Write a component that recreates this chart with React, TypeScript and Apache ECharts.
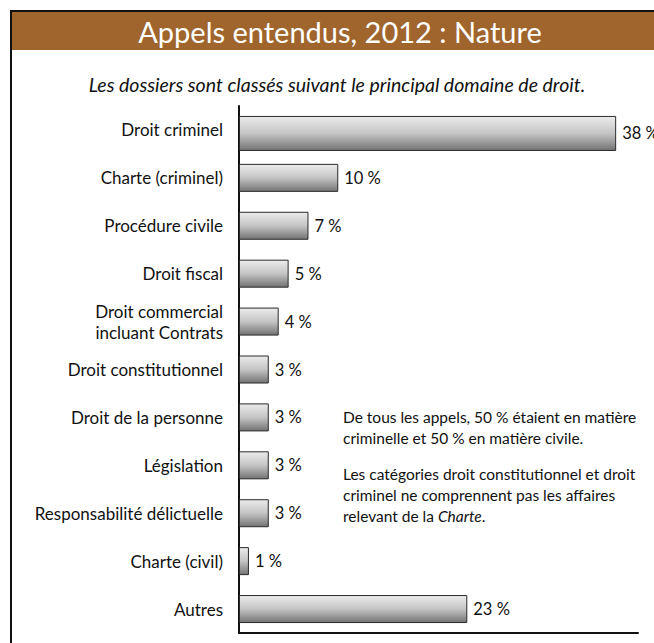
import React, { useEffect, useRef } from "react";
import * as echarts from "echarts";

const categories = [
  "Droit criminel",
  "Charte (criminel)",
  "Procédure civile",
  "Droit fiscal",
  "Droit commercial\nincluant Contrats",
  "Droit constitutionnel",
  "Droit de la personne",
  "Législation",
  "Responsabilité délictuelle",
  "Charte (civil)",
  "Autres",
];
const values = [38, 10, 7, 5, 4, 3, 3, 3, 3, 1, 23];
const titleText = "Appels entendus, 2012 : Nature";
const subtitleText = "Les dossiers sont classés suivant le principal domaine de droit.";
const noteLines1 = ["De tous les appels, 50 % étaient en matière", "criminelle et 50 % en matière civile."];
const noteLines2 = ["Les catégories droit constitutionnel et droit", "criminel ne comprennent pas les affaires"];

const FONT = "Lato, 'Open Sans', sans-serif";

export default function App() {
  const ref = useRef<HTMLDivElement>(null);
  useEffect(() => {
    if (!ref.current) return;
    const chart = echarts.init(ref.current, null, { renderer: "svg" });
    const grad = new echarts.graphic.LinearGradient(0, 0, 0, 1, [
      { offset: 0, color: "#ececec" },
      { offset: 0.5, color: "#c4c4c4" },
      { offset: 1, color: "#737373" },
    ]);
    const big = values.map((v, i) => (i === 0 ? v : "-"));
    const rest = values.map((v, i) => (i === 0 ? "-" : v));
    const labelCfg = {
      show: true,
      position: "right",
      distance: 6,
      formatter: (p: any) => `${p.value} %`,
      fontFamily: FONT,
      fontSize: 16.5,
      color: "#111",
    };
    const itemStyle = { color: grad, borderColor: "#2a2a2a", borderWidth: 1 };
    chart.setOption({
      animation: false,
      backgroundColor: "#fff",
      grid: { left: 239, right: 16, top: 106, bottom: 10, containLabel: false },
      xAxis: {
        type: "value",
        min: 0,
        max: 40.2,
        axisLine: { show: true, lineStyle: { color: "#111", width: 2 } },
        axisTick: { show: false },
        axisLabel: { show: false },
        splitLine: { show: false },
      },
      yAxis: {
        type: "category",
        data: categories,
        inverse: true,
        axisLine: { show: true, lineStyle: { color: "#111", width: 2 } },
        axisTick: { show: false },
        axisLabel: {
          margin: 16,
          fontFamily: FONT,
          fontSize: 17,
          color: "#111",
          lineHeight: 21,
          align: "right",
        },
      },
      series: [
        {
          type: "bar",
          data: big,
          barWidth: 35,
          itemStyle,
          label: labelCfg,
        },
        {
          type: "bar",
          data: rest,
          barWidth: 28,
          barGap: "-100%",
          itemStyle,
          label: labelCfg,
        },
      ],
      graphic: [
        { type: "rect", shape: { x: 12, y: 12, width: 642, height: 38 }, style: { fill: "#a0652d" } },
        { type: "line", shape: { x1: 11, y1: 10, x2: 11, y2: 643 }, style: { stroke: "#111", lineWidth: 2 } },
        { type: "line", shape: { x1: 10, y1: 11, x2: 654, y2: 11 }, style: { stroke: "#111", lineWidth: 2 } },
        {
          type: "text",
          x: 340,
          y: 31,
          style: {
            text: titleText,
            fill: "#fff",
            fontFamily: FONT,
            fontSize: 29,
            textAlign: "center",
            textVerticalAlign: "middle",
          },
        },
        {
          type: "text",
          x: 337,
          y: 84,
          style: {
            text: subtitleText,
            fill: "#111",
            fontFamily: FONT,
            fontStyle: "italic",
            fontSize: 19.5,
            textAlign: "center",
            textVerticalAlign: "middle",
          },
        },
        {
          type: "text",
          x: 343,
          y: 406,
          style: {
            text: noteLines1.join("\n"),
            fill: "#111",
            fontFamily: FONT,
            fontSize: 15.5,
            lineHeight: 21,
          },
        },
        {
          type: "text",
          x: 343,
          y: 463,
          style: {
            text: noteLines2.join("\n") + "\n{n|relevant de la }{i|Charte}{n|.}",
            fill: "#111",
            fontFamily: FONT,
            fontSize: 15.5,
            lineHeight: 21,
            rich: {
              n: { fontFamily: FONT, fontSize: 15.5, fill: "#111", lineHeight: 21 },
              i: { fontFamily: FONT, fontSize: 15.5, fill: "#111", fontStyle: "italic", lineHeight: 21 },
            },
          },
        },
      ],
    });
    return () => chart.dispose();
  }, []);
  return (
    <div
      ref={ref}
      style={{ position: "fixed", left: 0, top: 0, width: 654, height: 643 }}
    />
  );
}
